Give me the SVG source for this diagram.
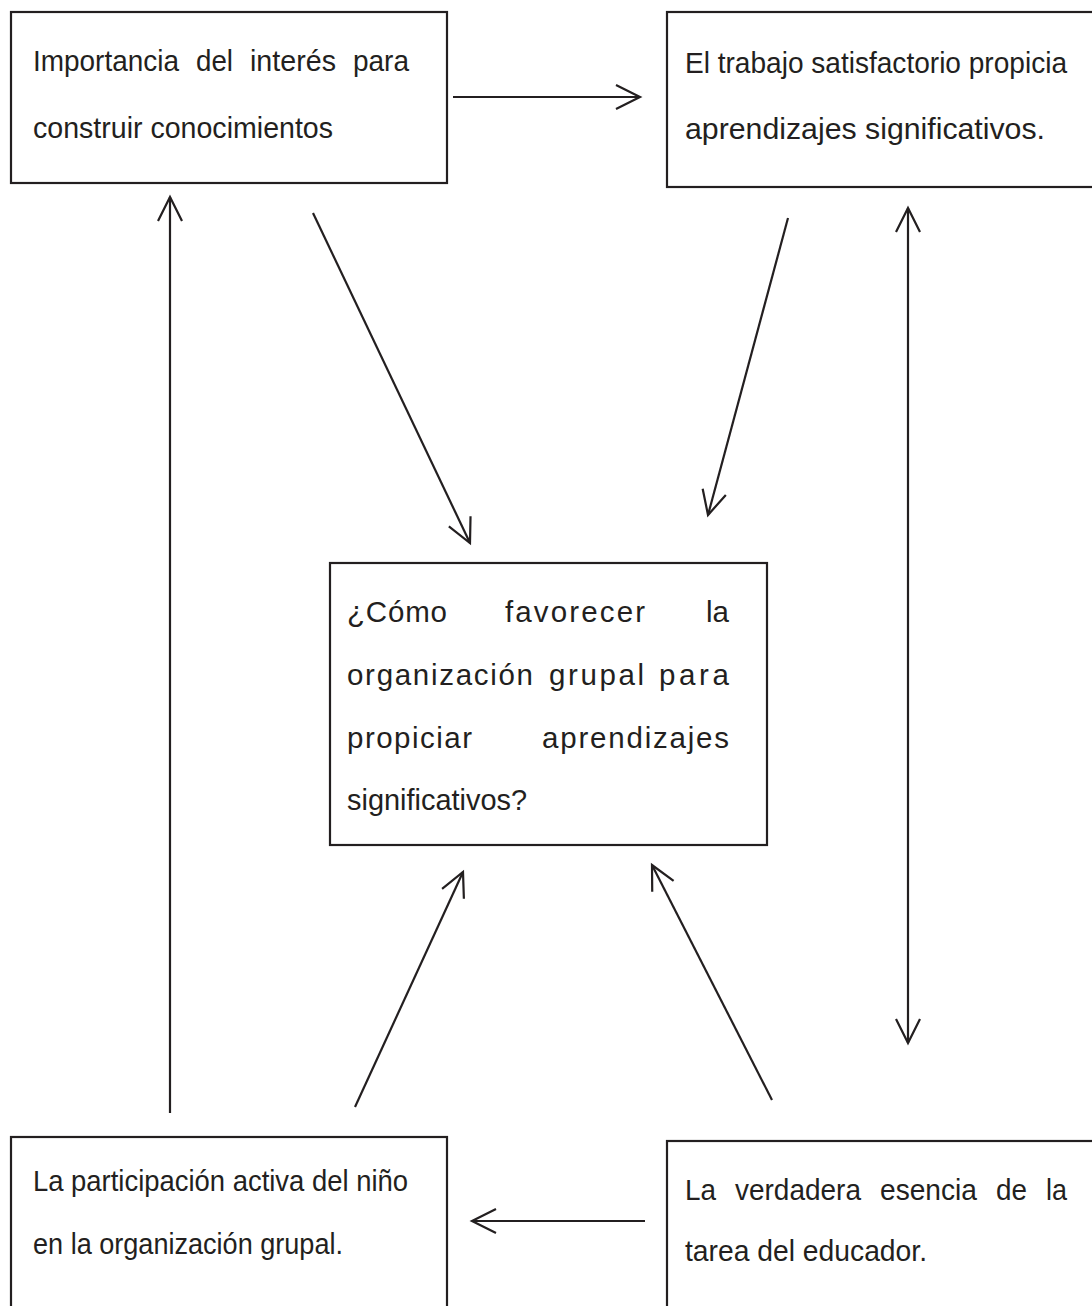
<svg xmlns="http://www.w3.org/2000/svg" width="1092" height="1306" viewBox="0 0 1092 1306">
<defs>
<style>
.box{fill:#ffffff;stroke:#231f20;stroke-width:2.2}
.t{font-family:"Liberation Sans",Arial,Helvetica,sans-serif;font-size:29.5px;fill:#231f20}
.c{fill:none;stroke:#231f20;stroke-width:2.2}
</style>
<marker id="ah" viewBox="-30 -16 34 32" markerWidth="34" markerHeight="32" refX="0" refY="0" markerUnits="userSpaceOnUse" orient="auto-start-reverse">
<path d="M-24,-12 L0,0 L-24,12" fill="none" stroke="#231f20" stroke-width="2.2"/>
</marker>
</defs>
<rect width="1092" height="1306" fill="#ffffff"/>
<g id="n1">
<rect class="box" x="11" y="12" width="436" height="171"/>
<text class="t" y="71"><tspan x="33" textLength="146" lengthAdjust="spacingAndGlyphs">Importancia</tspan></text>
<text class="t" y="71" x="196" textLength="37" lengthAdjust="spacingAndGlyphs">del</text>
<text class="t" y="71" x="250" textLength="86" lengthAdjust="spacingAndGlyphs">interés</text>
<text class="t" y="71" x="353" textLength="56" lengthAdjust="spacingAndGlyphs">para</text>
<text class="t" x="33" y="138" textLength="300" lengthAdjust="spacingAndGlyphs">construir conocimientos</text>
</g>
<g id="n2">
<rect class="box" x="667" y="12" width="440" height="175"/>
<text class="t" x="685" y="73" textLength="382" lengthAdjust="spacingAndGlyphs">El trabajo satisfactorio propicia</text>
<text class="t" x="685" y="139" textLength="360" lengthAdjust="spacingAndGlyphs">aprendizajes significativos.</text>
</g>
<g id="n3">
<rect class="box" x="330" y="563" width="437" height="282"/>
<text class="t" y="622" x="347" textLength="100" lengthAdjust="spacing">¿Cómo</text>
<text class="t" y="622" x="505" textLength="140" lengthAdjust="spacing">favorecer</text>
<text class="t" y="622" x="706" textLength="23" lengthAdjust="spacing">la</text>
<text class="t" y="685" x="347" textLength="186" lengthAdjust="spacing">organización</text>
<text class="t" y="685" x="549" textLength="95" lengthAdjust="spacing">grupal</text>
<text class="t" y="685" x="659" textLength="70" lengthAdjust="spacing">para</text>
<text class="t" y="748" x="347" textLength="125" lengthAdjust="spacing">propiciar</text>
<text class="t" y="748" x="542" textLength="187" lengthAdjust="spacing">aprendizajes</text>
<text class="t" y="810" x="347" textLength="180" lengthAdjust="spacingAndGlyphs">significativos?</text>
</g>
<g id="n4">
<rect class="box" x="11" y="1137" width="436" height="200"/>
<text class="t" x="33" y="1191" textLength="375" lengthAdjust="spacingAndGlyphs">La participación activa del niño</text>
<text class="t" x="33" y="1254" textLength="310" lengthAdjust="spacingAndGlyphs">en la organización grupal.</text>
</g>
<g id="n5">
<rect class="box" x="667" y="1141" width="440" height="200"/>
<text class="t" y="1200" x="685" textLength="31" lengthAdjust="spacingAndGlyphs">La</text>
<text class="t" y="1200" x="735" textLength="126" lengthAdjust="spacingAndGlyphs">verdadera</text>
<text class="t" y="1200" x="880" textLength="97" lengthAdjust="spacingAndGlyphs">esencia</text>
<text class="t" y="1200" x="996" textLength="31" lengthAdjust="spacingAndGlyphs">de</text>
<text class="t" y="1200" x="1046" textLength="21" lengthAdjust="spacingAndGlyphs">la</text>
<text class="t" x="685" y="1261" textLength="242" lengthAdjust="spacingAndGlyphs">tarea del educador.</text>
</g>
<g id="connectors">
<line class="c" x1="453" y1="97" x2="640" y2="97" marker-end="url(#ah)"/>
<line class="c" x1="313" y1="213" x2="470" y2="543" marker-end="url(#ah)"/>
<line class="c" x1="788" y1="218" x2="708" y2="515" marker-end="url(#ah)"/>
<line class="c" x1="908" y1="208" x2="908" y2="1043" marker-start="url(#ah)" marker-end="url(#ah)"/>
<line class="c" x1="170" y1="1113" x2="170" y2="197" marker-end="url(#ah)"/>
<line class="c" x1="355" y1="1107" x2="463" y2="872" marker-end="url(#ah)"/>
<line class="c" x1="772" y1="1100" x2="652" y2="865" marker-end="url(#ah)"/>
<line class="c" x1="645" y1="1221" x2="472" y2="1221" marker-end="url(#ah)"/>
</g>
</svg>
